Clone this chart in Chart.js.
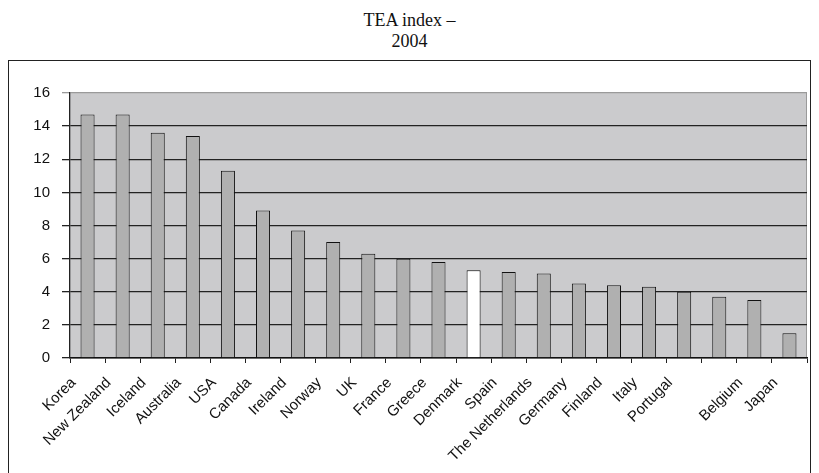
<!DOCTYPE html>
<html>
<head>
<meta charset="utf-8">
<script src="https://cdn.jsdelivr.net/npm/chart.js@4/dist/chart.umd.min.js"></script>
<style>
  html, body { margin: 0; padding: 0; background: #fff; overflow: hidden; }
  #wrap { position: relative; width: 819px; height: 473px; }
  #title {
    position: absolute; left: 0; top: 10px; width: 819px; text-align: center;
    font-family: "Liberation Serif", "Times New Roman", serif; font-size: 18px; line-height: 21px; color: #111;
  }
  #box {
    position: absolute; left: 8px; top: 60px; width: 803px; height: 430px;
    border: 1.5px solid #222; box-sizing: border-box; pointer-events: none;
  }
  canvas { position: absolute; left: 0; top: 0; }
</style>
</head>
<body>
<div id="wrap">
  <div id="title">TEA index –<br>2004</div>
  <div id="box"></div>
  <canvas id="chart" width="819" height="473"></canvas>
</div>
<script>
const countries = ['Korea', 'New Zealand', 'Iceland', 'Australia', 'USA', 'Canada', 'Ireland', 'Norway', 'UK', 'France',
  'Greece', 'Denmark', 'Spain', 'The Netherlands', 'Germany', 'Finland', 'Italy', 'Portugal', '', 'Belgium', 'Japan'];
const teaValues = [14.7, 14.7, 13.6, 13.4, 11.3, 8.9, 7.7, 7.0, 6.3, 6.0,
  5.8, 5.3, 5.2, 5.1, 4.5, 4.4, 4.3, 4.0, 3.7, 3.5, 1.5];
const highlight = 'Denmark';

const plotBackground = {
  id: 'plotBackground',
  beforeDraw(chart) {
    const a = chart.chartArea, c = chart.ctx;
    c.save();
    c.fillStyle = '#cbcbcd';
    c.fillRect(a.left, a.top, a.right - a.left, a.bottom - a.top);
    c.strokeStyle = '#9a9a9a';
    c.lineWidth = 1;
    c.beginPath();
    c.moveTo(a.right - 0.5, a.top);
    c.lineTo(a.right - 0.5, a.bottom);
    c.stroke();
    c.restore();
  }
};

new Chart(document.getElementById('chart'), {
  type: 'bar',
  data: {
    labels: countries,
    datasets: [{
      data: teaValues,
      backgroundColor: countries.map(c => c === highlight ? '#ffffff' : '#b0b0b0'),
      borderColor: '#111',
      borderWidth: 1,
      barPercentage: 0.4,
      categoryPercentage: 1.0
    }]
  },
  options: {
    responsive: false,
    animation: false,
    layout: { padding: { left: 20, right: 12, top: 93, bottom: 0 } },
    plugins: { legend: { display: false }, tooltip: { enabled: false } },
    scales: {
      x: {
        afterFit(scale) { scale.height = 115; },
        grid: { drawOnChartArea: false, drawTicks: true, tickLength: 5, color: '#222', offset: true },
        border: { color: '#111', width: 1.5 },
        ticks: {
          autoSkip: false, maxRotation: 45, minRotation: 45, labelOffset: -14, padding: 11,
          color: '#111', font: { family: 'Liberation Sans, Arial, sans-serif', size: 15 }
        }
      },
      y: {
        min: 0, max: 16,
        afterFit(scale) { scale.width = 50; },
        grid: {
          color: ctx => (ctx.tick && ctx.tick.value === 16) ? '#9a9a9a' : '#222',
          lineWidth: 1.3, tickLength: 8
        },
        border: { color: '#222', width: 1.3 },
        ticks: {
          stepSize: 2, padding: 12, color: '#111',
          font: { family: 'Liberation Sans, Arial, sans-serif', size: 15 }
        }
      }
    }
  },
  plugins: [plotBackground]
});
</script>
</body>
</html>
